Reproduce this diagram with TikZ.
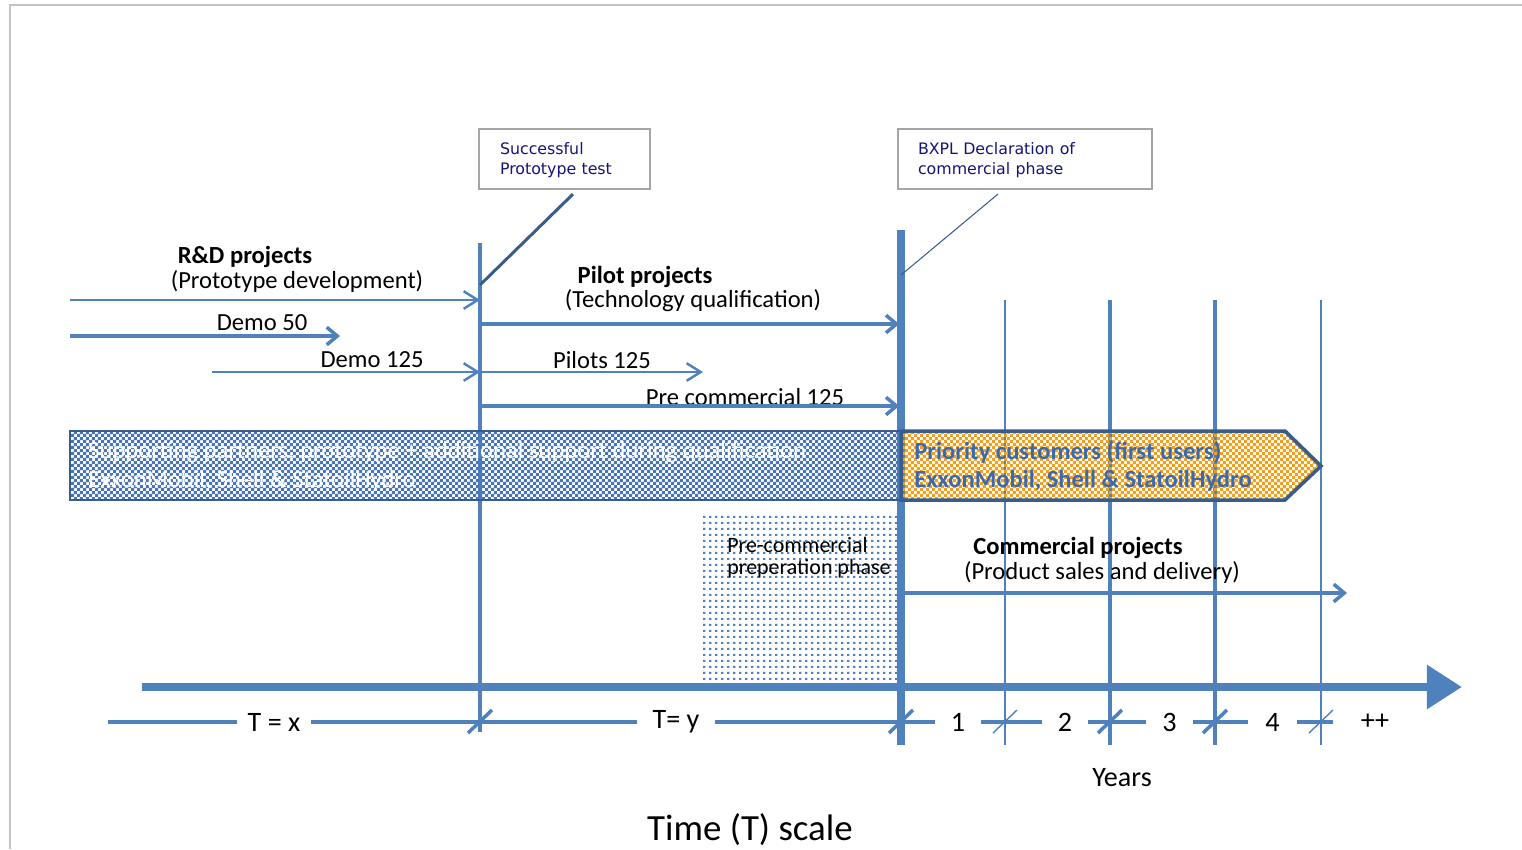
\documentclass[tikz,border=0pt]{standalone}
\usepackage{fontspec}
\setmainfont{Carlito}
\newfontfamily\calloutfont{DejaVu Sans}
\usetikzlibrary{arrows.meta,patterns,patterns.meta,positioning}
\definecolor{offblue}{RGB}{79,129,189}
\definecolor{bandblue}{RGB}{70,118,185}
\definecolor{darkblue}{RGB}{56,93,138}
\definecolor{navy}{RGB}{20,20,120}
\definecolor{amber}{RGB}{240,160,30}
\definecolor{textblue}{RGB}{60,105,170}
\definecolor{framegray}{RGB}{195,195,195}
\definecolor{boxgray}{RGB}{165,165,165}
\tikzdeclarepattern{
  name=finechecker,
  type=uncolored,
  bounding box={(0pt,0pt) and (3.4pt,3.4pt)},
  tile size={(3.4pt,3.4pt)},
  code={
    \fill (0pt,0pt) rectangle (1.8pt,1.8pt);
    \fill (1.7pt,1.7pt) rectangle (3.4pt,3.4pt);
  }
}
\tikzdeclarepattern{
  name=griddots,
  type=uncolored,
  bounding box={(0pt,0pt) and (3.2pt,3.2pt)},
  tile size={(3.2pt,3.2pt)},
  code={
    \fill (0pt,0pt) rectangle (1.5pt,1.3pt);
  }
}
\begin{document}
\begin{tikzpicture}[x=0.02cm,y=-0.02cm]
        \tikzstyle{lbl}=[inner sep=0pt, font=\fontsize{14}{16}\selectfont]
        \tikzstyle{ttl}=[inner sep=0pt, font=\fontsize{14}{16}\selectfont\bfseries]
        \tikzstyle{yr}=[inner sep=0pt, fill=white, minimum height=0.4cm, font=\fontsize{16}{18}\selectfont]
        \tikzstyle{call}=[draw=boxgray, line width=1.2pt, text=navy, align=left, minimum height=1.2cm, font=\calloutfont\fontsize{9}{11.3}\selectfont]
        \tikzstyle{vl}=[draw=offblue, line width=2.8pt]
        \tikzstyle{vthin}=[draw=offblue, line width=0.6pt]
        \tikzstyle{fat}=[draw=offblue, line width=2.3pt, -{Straight Barb[length=6pt,width=10pt,line width=2pt]}]
        \tikzstyle{slim}=[draw=offblue, line width=0.7pt, -{Straight Barb[length=8pt,width=10pt,line width=1.4pt]}]

        \useasboundingbox (0,0) rectangle (1522,849);
        \draw[framegray, line width=1pt] (10,849) -- (10,5) -- (1522,5);

        \coordinate (v1t) at (480,243);  \coordinate (v1b) at (480,732);
        \coordinate (v2t) at (901,230);  \coordinate (v2b) at (901,745);
        \coordinate (y1t) at (1005,300); \coordinate (y1b) at (1005,745);
        \coordinate (y2t) at (1110,300); \coordinate (y2b) at (1110,745);
        \coordinate (y3t) at (1215,300); \coordinate (y3b) at (1215,745);
        \coordinate (y4t) at (1321,300); \coordinate (y4b) at (1321,745);

        \fill[pattern=griddots, pattern color=offblue] (701,512) rectangle (903,687);
        \node[lbl, anchor=west, font=\fontsize{12.5}{15}\selectfont] (pre1) at (727,545) {Pre-commercial};
        \node[lbl, anchor=west, font=\fontsize{12.5}{15}\selectfont] (pre2) at (727,569) {preperation phase};

        \draw[vl] (v1t) -- (v1b);
        \draw[vl, line width=4pt] (v2t) -- (v2b);
        \draw[vthin] (y1t) -- (y1b);
        \draw[vl] (y2t) -- (y2b);
        \draw[vl] (y3t) -- (y3b);
        \draw[vthin] (y4t) -- (y4b);

        \node[call, text width=2.58cm, inner xsep=0.42cm] (cb1) at (564.5,159) {\strut Successful\\Prototype test};
        \node[call, text width=4.28cm, inner xsep=0.4cm] (cb2) at (1025,159) {\strut BXPL Declaration of\\commercial phase};
        \coordinate (pt1) at (480,285);
        \coordinate (pt2) at (901,275);
        \draw[darkblue, line width=1.7pt] ([xshift=0.17cm,yshift=-0.08cm]cb1.south) -- (pt1);
        \draw[darkblue, line width=0.6pt] ([xshift=-0.54cm,yshift=-0.08cm]cb2.south) -- (pt2);

        \node[ttl] (rdt) at (245,257) {R\&D projects};
        \node[lbl] (rds) at (297,281) {(Prototype development)};
        \coordinate (rd) at (70,300);
        \draw[slim] (rd) -- (rd -| v1t);

        \node[lbl] (d50) at (262,323) {Demo 50};
        \coordinate (d50a) at (70,336); \coordinate (d50b) at (340,336);
        \draw[fat] (d50a) -- (d50b);

        \node[lbl] (d125) at (372,360) {Demo 125};
        \coordinate (d125a) at (212,372);
        \draw[slim] (d125a) -- (d125a -| v1t);

        \node[ttl] (pilt) at (645,277) {Pilot projects};
        \node[lbl] (pils) at (693,301) {(Technology qualification)};
        \coordinate (pil) at (480,324);
        \draw[fat, shorten >=1pt] (pil) -- (pil -| v2t);

        \node[lbl] (p125) at (602,360) {Pilots 125};
        \coordinate (p125a) at (480,372); \coordinate (p125b) at (703,372);
        \draw[slim] (p125a) -- (p125b);

        \node[lbl] (pc125) at (745,397) {Pre commercial 125};
        \coordinate (pc) at (480,406);
        \draw[fat, shorten >=1pt] (pc) -- (pc -| v2t);

        \draw[pattern=finechecker, pattern color=bandblue, draw=darkblue, line width=1.5pt] (70,431) rectangle (901,500);
        \node[lbl, anchor=west, text=white] (sp1) at (88,452) {Supporting partners; prototype + additional support during qualification};
        \node[lbl, anchor=west, text=white] (sp2) at (88,481) {ExxonMobil, Shell \& StatoilHydro};

        \draw[pattern=finechecker, pattern color=amber, draw=darkblue, line width=2pt] (901,431) -- (1285,431) -- (1321,466) -- (1285,500) -- (901,500) -- cycle;
        \node[ttl, anchor=west, text=textblue] (pr1) at (914,452) {Priority customers (first users)};
        \node[ttl, anchor=west, text=textblue] (pr2) at (914,481) {ExxonMobil, Shell \& StatoilHydro};

        \node[ttl] (cpt) at (1078,548) {Commercial projects};
        \node[lbl] (cps) at (1102,572) {(Product sales and delivery)};
        \coordinate (cp) at (901,593); \coordinate (cpe) at (1347,593);
        \draw[fat] (cp) -- (cpe);

        \coordinate (ax0) at (142,687); \coordinate (ax1) at (1462,687);
        \draw[offblue, line width=5pt, -{Triangle[length=20pt,width=24pt]}] (ax0) -- (ax1);

        \coordinate (sc0) at (108,722); \coordinate (sc1) at (1333,722);
        \draw[offblue, line width=2.3pt] (sc0) -- (sc1);
        \foreach \x/\w in {480/2pt, 901/2pt, 1005/0.8pt, 1110/2pt, 1215/2pt, 1321/0.8pt}
            \draw[offblue, line width=\w] (\x-12,733) -- (\x+12,710);
        \node[yr, minimum width=1.5cm] (tx) at (274,722) {T = x};
        \node[yr, minimum width=1.56cm] (ty) at (676,722) {T= y};
        \node[yr, minimum width=0.92cm] (n1) at (958,722) {1};
        \node[yr, minimum width=0.92cm] (n2) at (1065,722) {2};
        \node[yr, minimum width=0.94cm] (n3) at (1169.5,722) {3};
        \node[yr, minimum width=0.98cm] (n4) at (1272.5,722) {4};
        \node[yr] (pp) at (1375,722) {++};

        \node[lbl, font=\fontsize{16}{18}\selectfont] (yrs) at (1122,778) {Years};
        \node[lbl, font=\fontsize{21}{23}\selectfont] (tsc) at (750,830) {Time (T) scale};
    \end{tikzpicture}
\end{document}
